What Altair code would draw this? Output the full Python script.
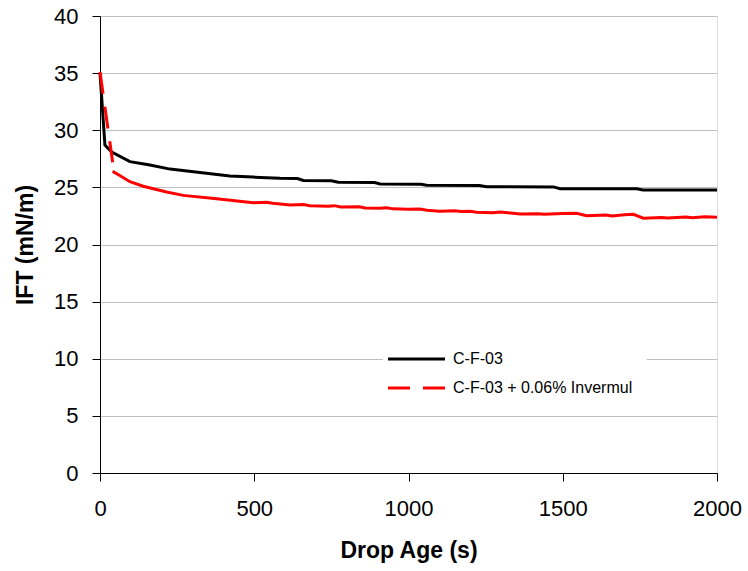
import altair as alt
import pandas as pd

FONT = "Liberation Sans"

# Series: C-F-03 (black, solid)
black_t = [0, 16, 38, 97, 162, 227, 324, 421, 496, 583, 640, 659, 750, 772, 890, 908,
           1040, 1059, 1230, 1253, 1470, 1491, 1740, 1760, 2000]
black_ift = [35.0, 28.7, 28.1, 27.25, 26.96, 26.6, 26.3, 26.0, 25.9, 25.8, 25.78, 25.6, 25.58, 25.45,
             25.43, 25.3, 25.28, 25.18, 25.16, 25.05, 25.04, 24.88, 24.87, 24.77, 24.76]

# Series: C-F-03 + 0.06% Invermul (red, dashed) - initial steep part
red_dash_t = [0, 41]
red_dash_ift = [35.1, 27.2]
# remaining part
red_t = [41, 60, 97, 140, 216, 270, 378, 497, 540, 560, 616, 660, 680, 740, 760, 780, 840, 860,
         907, 930, 950, 1000, 1036, 1060, 1100, 1150, 1170, 1200, 1220, 1273, 1297, 1362, 1420,
         1440, 1500, 1545, 1577, 1640, 1660, 1700, 1729, 1761, 1820, 1840, 1900, 1920, 1960, 2000]
red_ift = [26.4, 26.1, 25.5, 25.1, 24.6, 24.3, 24.0, 23.66, 23.7, 23.62, 23.45, 23.5, 23.4, 23.35,
           23.4, 23.28, 23.3, 23.2, 23.17, 23.22, 23.12, 23.08, 23.1, 23.0, 22.9, 22.95, 22.88, 22.9,
           22.82, 22.78, 22.85, 22.66, 22.7, 22.64, 22.72, 22.74, 22.52, 22.58, 22.5, 22.6, 22.64,
           22.3, 22.36, 22.32, 22.4, 22.35, 22.42, 22.38]

legend_labels = ["C-F-03", "C-F-03 + 0.06% Invermul"]

x_ticks = [0, 500, 1000, 1500, 2000]
y_ticks = [0, 5, 10, 15, 20, 25, 30, 35, 40]

df_black = pd.DataFrame({"t": black_t, "ift": black_ift})
df_red_dash = pd.DataFrame({"t": red_dash_t, "ift": red_dash_ift})
df_red = pd.DataFrame({"t": red_t, "ift": red_ift})

x_enc = alt.X("t:Q", scale=alt.Scale(domain=[0, 2000], nice=False),
              axis=alt.Axis(values=x_ticks, format="d", title="Drop Age (s)", grid=False,
                            tickSize=8, labelPadding=17, titlePadding=20,
                            labelFontSize=22, titleFontSize=23, titleFontWeight="bold",
                            labelFont=FONT, titleFont=FONT, labelColor="black",
                            titleColor="black", domainColor="black", tickColor="black",
                            labelFlush=False))
y_enc = alt.Y("ift:Q", scale=alt.Scale(domain=[0, 40], nice=False),
              axis=alt.Axis(values=y_ticks, format="d", title="IFT (mN/m)", grid=True,
                            gridColor="#c0c0c0", gridWidth=1,
                            tickSize=8, labelPadding=14, titlePadding=16,
                            labelFontSize=22, titleFontSize=23, titleFontWeight="bold",
                            labelFont=FONT, titleFont=FONT, labelColor="black",
                            titleColor="black", domainColor="black", tickColor="black",
                            labelFlush=False))

black_line = alt.Chart(df_black).mark_line(color="black", strokeWidth=3).encode(x=x_enc, y=y_enc)
red_dash_line = alt.Chart(df_red_dash).mark_line(color="#ff0000", strokeWidth=3,
                                                 strokeDash=[22, 13]).encode(x="t:Q", y="ift:Q")
red_line = alt.Chart(df_red).mark_line(color="#ff0000", strokeWidth=3).encode(x="t:Q", y="ift:Q")

leg_df = pd.DataFrame({"label": legend_labels})
leg_bg = alt.Chart(leg_df.head(1)).mark_rect(color="white").encode(
    x=alt.value(283), x2=alt.value(547), y=alt.value(318), y2=alt.value(392))
leg_r1 = alt.Chart(leg_df.head(1)).mark_rule(color="black", strokeWidth=3).encode(
    x=alt.value(288), x2=alt.value(345), y=alt.value(343))
leg_r2 = alt.Chart(leg_df.tail(1)).mark_rule(color="#ff0000", strokeWidth=3,
                                             strokeDash=[22, 13]).encode(
    x=alt.value(288), x2=alt.value(345), y=alt.value(372))
leg_t1 = alt.Chart(leg_df.head(1)).mark_text(align="left", baseline="middle", fontSize=16,
                                             font=FONT, color="black").encode(
    x=alt.value(353), y=alt.value(343), text="label:N")
leg_t2 = alt.Chart(leg_df.tail(1)).mark_text(align="left", baseline="middle", fontSize=16,
                                             font=FONT, color="black").encode(
    x=alt.value(353), y=alt.value(372), text="label:N")

chart = alt.layer(black_line, red_dash_line, red_line, leg_bg, leg_r1, leg_r2, leg_t1, leg_t2).properties(
    width=617, height=457,
    autosize=alt.AutoSizeParams(type="none"),
    padding={"left": 100, "top": 16, "right": 31, "bottom": 98},
).configure_view(stroke="#808080", strokeWidth=1).configure(background="white")

chart.save("out.html", embed_options={"renderer": "svg", "actions": False})
